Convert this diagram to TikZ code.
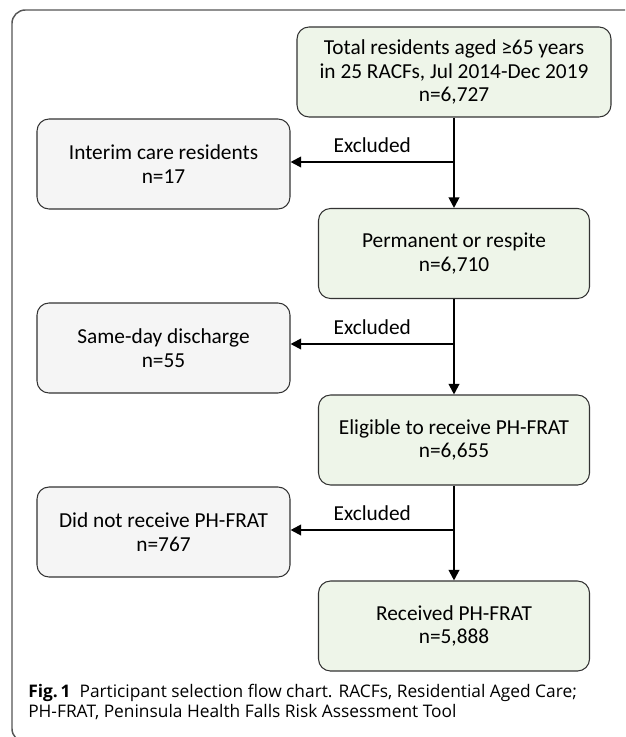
\documentclass[tikz,border=0pt]{standalone}
\usepackage{fontspec}
\setmainfont{Carlito}
\newfontfamily\capfont{Open Sans}
\usetikzlibrary{arrows.meta}

\definecolor{inclfill}{HTML}{EEF5E9}
\definecolor{exclfill}{HTML}{F5F5F5}
\definecolor{boxline}{HTML}{333333}
\definecolor{framegray}{HTML}{555555}

\begin{document}
\begin{tikzpicture}[x=0.75pt,y=-0.75pt,
  every node/.style={font=\fontsize{16}{17.5}\selectfont},
  box/.style={draw=boxline, line width=0.8pt, rounded corners=9pt, align=center, minimum height=67.5pt},
  incl/.style={box, fill=inclfill, minimum width=203.25pt},
  excl/.style={box, fill=exclfill, minimum width=189.75pt},
  flow/.style={line width=1.5pt, -{Triangle[length=8pt,width=8pt]}}]
 \useasboundingbox (0,0) rectangle (625,737);
 % outer frame of the figure
 \begin{scope}
   \clip (0,0) rectangle (625,737);
   \draw [framegray, line width=1.1pt, rounded corners=10pt] (640,10) -- (12,10) -- (12,742) -- (640,742);
 \end{scope}
 % main column
 \node (total) [incl, minimum width=235.5pt] at (454,72) {Total residents aged ≥65 years\\in 25 RACFs, Jul 2014-Dec 2019\\n=6,727};
 \node (perm) [incl] at (454,253.5) {Permanent or respite\\n=6,710};
 \node (elig) [incl] at (454,440) {Eligible to receive PH-FRAT\\n=6,655};
 \node (recv) [incl] at (454,626) {Received PH-FRAT\\n=5,888};
 % excluded column
 \node (interim) [excl] at (163.5,164) {Interim care residents\\n=17};
 \node (sameday) [excl] at (163.5,348) {Same-day discharge\\n=55};
 \node (notrecv) [excl] at (163.5,532) {Did not receive PH-FRAT\\n=767};
 \coordinate (j1) at (454,162);
 \coordinate (j2) at (454,344);
 \coordinate (j3) at (454,530);
 \draw [flow] (total) -- (perm);
 \draw [flow] (perm) -- (elig);
 \draw [flow] (elig) -- (recv);
 \draw [flow] (j1) -- node [above=3pt] {Excluded} (j1 -| interim.east);
 \draw [flow] (j2) -- node [above=3pt] {Excluded} (j2 -| sameday.east);
 \draw [flow] (j3) -- node [above=3pt] {Excluded} (j3 -| notrecv.east);
 % caption
 \node (cap) [anchor=north west, align=left, inner sep=0pt, font=\capfont\fontsize{13}{15}\selectfont] at (28,684)
   {\textbf{Fig.\,1}\ \ Participant selection flow chart. RACFs, Residential Aged Care;\\PH-FRAT, Peninsula Health Falls Risk Assessment Tool};
\end{tikzpicture}
\end{document}
